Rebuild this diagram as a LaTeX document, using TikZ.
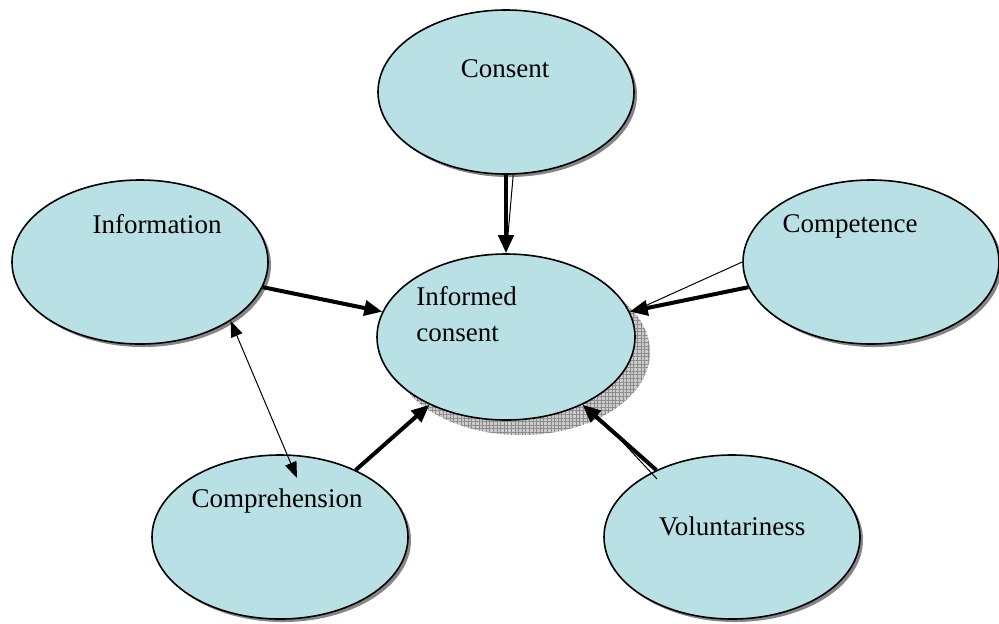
\documentclass[tikz,border=0pt]{standalone}
\usepackage{fontspec}
\setmainfont{Liberation Serif}
\usetikzlibrary{shapes.geometric,shadows,patterns.meta,arrows.meta}
\definecolor{bubblefill}{RGB}{185,224,228}

\begin{document}
\begin{tikzpicture}[x=0.5pt, y=-0.5pt,
    bubble/.style={ellipse, draw, line width=0.8pt, fill=bubblefill, minimum width=128pt, minimum height=82pt, inner sep=0pt},
    outer/.style={bubble, drop shadow={shadow xshift=1.5pt, shadow yshift=-1.5pt, fill=gray!95, opacity=1}},
    caption/.style={font=\fontsize{13.5}{18}\selectfont, inner sep=0pt},
    heavy/.style={line width=2pt, -{Triangle[length=9pt, width=7.5pt]}},
    light/.style={line width=0.5pt}]
  \useasboundingbox (0,0) rectangle (999,623);

  % hatched shadow under the centre bubble
  \node[ellipse, minimum width=129pt, minimum height=83pt, inner sep=0pt, fill=gray!40,
        postaction={pattern={Hatch[angle=0, distance=1.8pt, line width=0.3pt]}, pattern color=gray!90}] (informed-shadow) at (521,352) {};
  \node[bubble, minimum width=129pt, minimum height=83pt] (informed) at (506,337) {};
  \node[caption, anchor=base west, align=left] (informed-text) at (416,341) {Informed\\consent};

  \foreach \id/\x/\y/\tx/\ty/\word in {consent/506/92/505/77/Consent,
      information/140/262/157/233/Information,
      competence/871/262/850/232/Competence,
      comprehension/280/537/277/507/Comprehension,
      voluntariness/732/537/732/535/Voluntariness} {
    \node[outer] (\id) at (\x,\y) {};
    \node[caption, anchor=base] (\id-text) at (\tx,\ty) {\word};
  }

  \foreach \id in {consent,information,competence,comprehension,voluntariness}
    \draw[heavy] (\id) -- (informed);

  \draw[light, {Triangle[length=8pt, width=6pt]}-{Triangle[length=8pt, width=6pt]}]
    (information.-33.5) -- ([shift={(17,-59)}]comprehension.center);

  % thin doubled strokes beside some arrows
  \coordinate (consent-join) at (507,246);
  \draw[light] (consent.-85) -- (consent-join);
  \coordinate (competence-join) at (636,310);
  \draw[light] (competence.west) -- (competence-join);
  \coordinate (volunt-foot) at (657,479);
  \coordinate (volunt-join) at (603,421);
  \draw[light] (volunt-foot) -- (volunt-join);
\end{tikzpicture}
\end{document}
